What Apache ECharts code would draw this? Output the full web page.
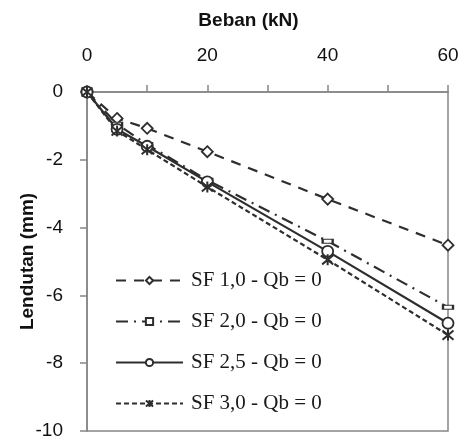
<!DOCTYPE html>
<html><head><meta charset="utf-8">
<script src="https://cdn.jsdelivr.net/npm/echarts@6/dist/echarts.min.js"></script>
<style>html,body{margin:0;padding:0;background:#fff}#c{width:472px;height:443px}</style>
</head><body><div id="c"></div>
<script>
const loads = [0, 5, 10, 20, 40, 60];
const sf10 = [0, -0.78, -1.07, -1.76, -3.16, -4.52];
const sf20 = [0, -0.95, -1.55, -2.6, -4.4, -6.35];
const sf25 = [0, -1.1, -1.6, -2.65, -4.7, -6.82];
const sf30 = [0, -1.15, -1.7, -2.8, -4.95, -7.17];
const names = ['SF 1,0 - Qb = 0', 'SF 2,0 - Qb = 0', 'SF 2,5 - Qb = 0', 'SF 3,0 - Qb = 0'];

const pair = arr => loads.map((x, i) => [x, arr[i]]);
const ink = '#2e2e2e';
const axisGray = '#868686';
const star = 'path://M0,0L10,10M10,0L0,10M5,-1L5,11M5,5L5,5';

const chart = echarts.init(document.getElementById('c'));
chart.setOption({
  animation: false,
  grid: {left: 87, right: 24, top: 92, bottom: 12, outerBoundsMode: 'none', containLabel: false,
    show: true, borderColor: axisGray, borderWidth: 1.5, backgroundColor: 'transparent'},
  legend: {
    orient: 'vertical', left: 115, top: 270, padding: 0, itemWidth: 67, itemHeight: 9, itemGap: 20,
    textStyle: {fontFamily: 'Liberation Serif', fontSize: 21, color: '#1a1a1a', padding: [0, 0, 0, 3]},
    data: names
  },
  xAxis: {
    type: 'value', position: 'top', min: 0, max: 60, interval: 10,
    name: 'Beban (kN)', nameLocation: 'middle', nameGap: 62, nameMoveOverlap: false,
    nameTextStyle: {fontFamily: 'Liberation Sans', fontWeight: 'bold', fontSize: 19, color: '#111', padding: [0, 38, 0, 0]},
    axisLine: {lineStyle: {color: axisGray, width: 1.5}},
    axisTick: {inside: false, length: 7, lineStyle: {color: axisGray, width: 1.5}},
    axisLabel: {margin: 27, fontFamily: 'Liberation Sans', fontSize: 19, color: '#111',
      formatter: v => (v % 20 === 0 ? String(v) : '')},
    splitLine: {show: false}
  },
  yAxis: {
    type: 'value', min: -10, max: 0, interval: 2,
    name: 'Lendutan (mm)', nameLocation: 'middle', nameGap: 50, nameMoveOverlap: false,
    nameTextStyle: {fontFamily: 'Liberation Sans', fontWeight: 'bold', fontSize: 19, color: '#111'},
    axisLine: {lineStyle: {color: axisGray, width: 1.5}},
    axisTick: {inside: false, length: 7, lineStyle: {color: axisGray, width: 1.5}},
    axisLabel: {margin: 24, fontFamily: 'Liberation Sans', fontSize: 19, color: '#111'},
    splitLine: {show: false}
  },
  series: [
    {name: names[0], type: 'line', data: pair(sf10), symbol: 'diamond', symbolSize: 11,
      lineStyle: {color: ink, width: 2.2, type: [10, 8]},
      itemStyle: {color: '#fff', borderColor: ink, borderWidth: 1.8}},
    {name: names[1], type: 'line', data: pair(sf20), symbol: 'rect', symbolSize: [10, 4],
      lineStyle: {color: ink, width: 2.2, type: [12, 6, 2, 6]},
      itemStyle: {color: '#fff', borderColor: ink, borderWidth: 1.5}},
    {name: names[2], type: 'line', data: pair(sf25), symbol: 'circle', symbolSize: 11,
      lineStyle: {color: ink, width: 2.2, type: 'solid'},
      itemStyle: {color: '#fff', borderColor: ink, borderWidth: 1.8}},
    {name: names[3], type: 'line', data: pair(sf30), symbol: star, symbolSize: 11,
      lineStyle: {color: ink, width: 2.2, type: [5, 3]},
      itemStyle: {color: ink, borderColor: ink, borderWidth: 2}}
  ]
});
</script></body></html>
